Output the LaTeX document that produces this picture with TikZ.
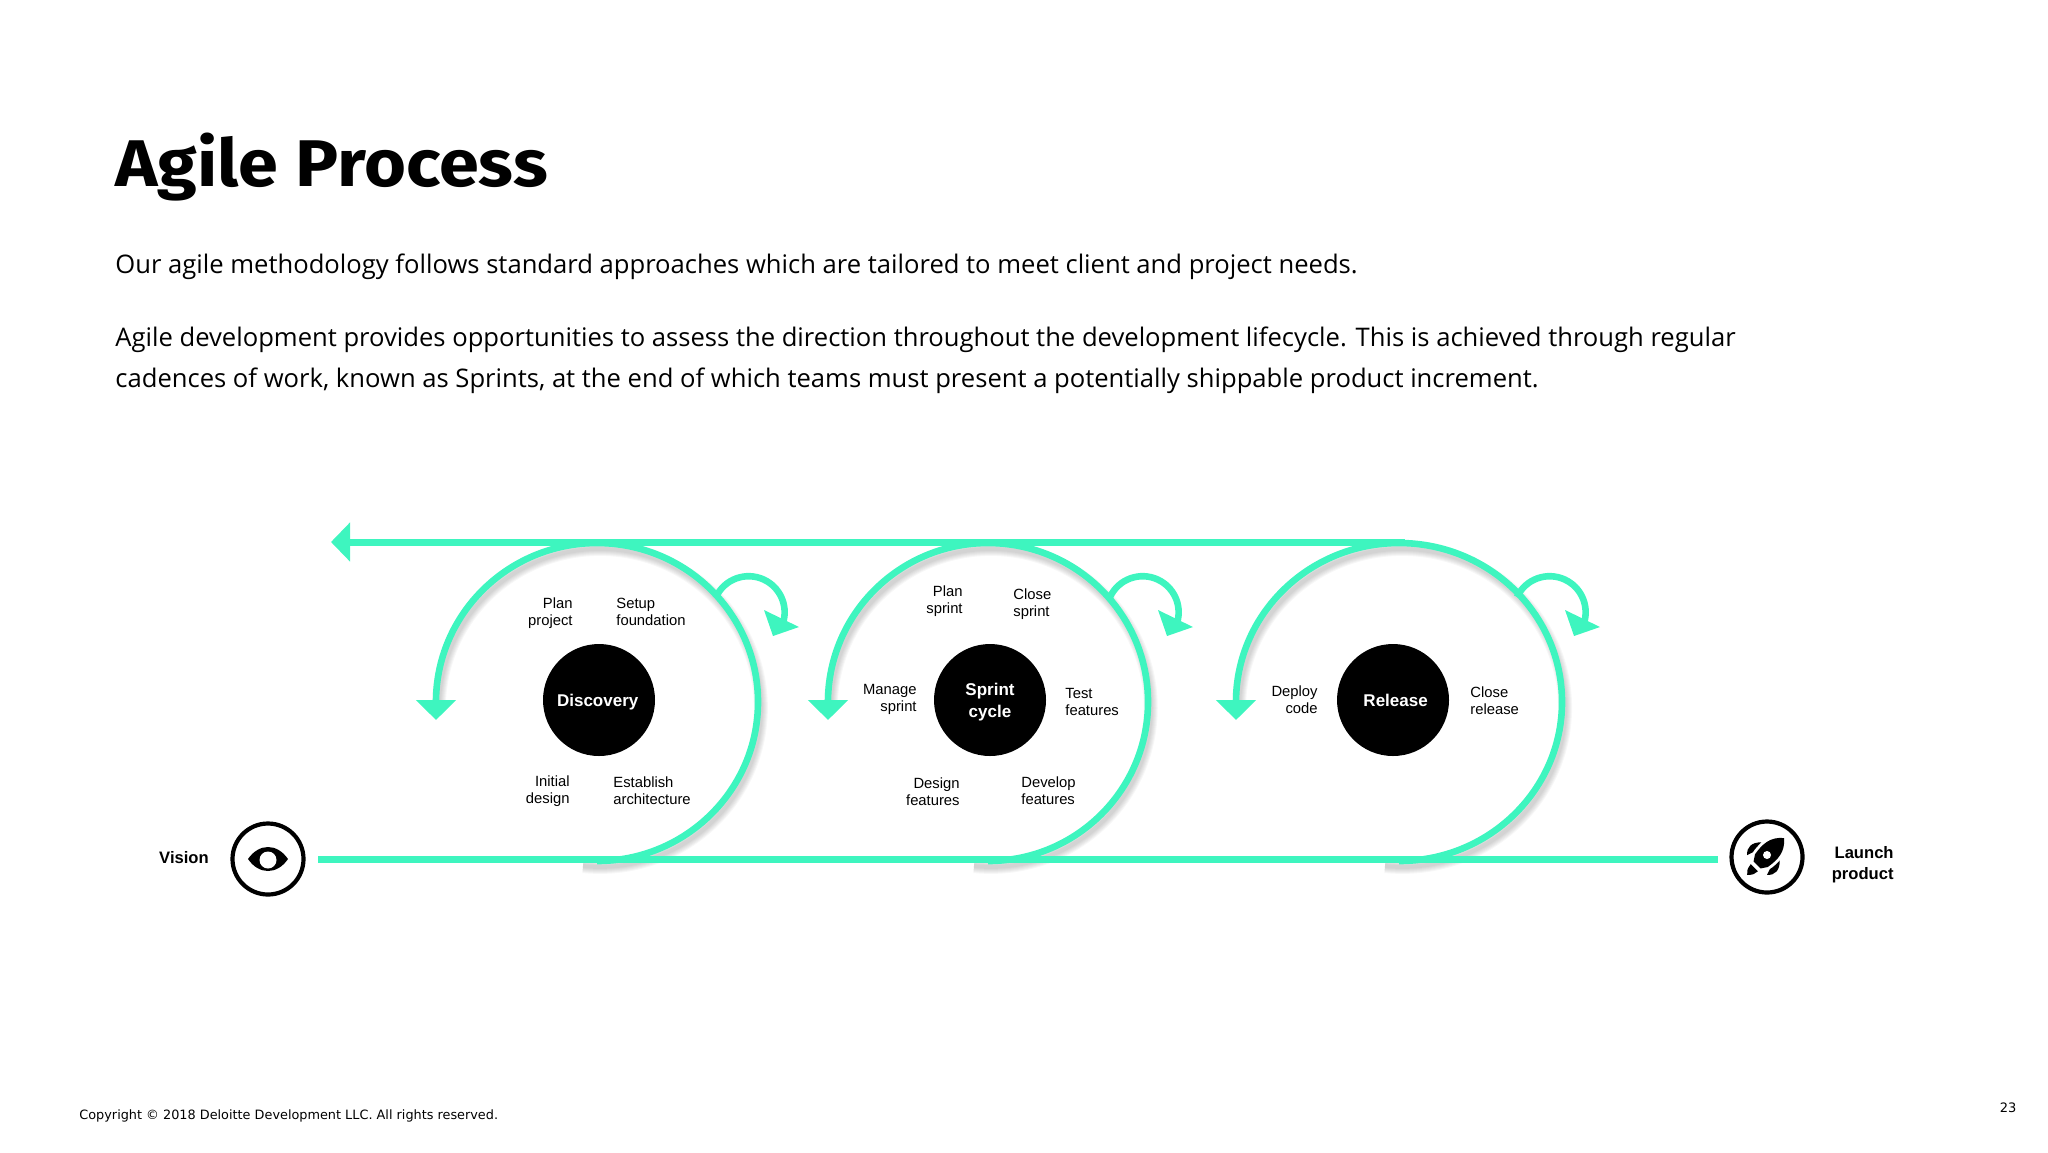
\documentclass[tikz,border=0pt]{standalone}
\usepackage{fontspec}
\setmainfont{Open Sans}
\newfontfamily\labelfont{Liberation Sans}
\newfontfamily\titlefont{Fira Sans}
\newfontfamily\footfont{DejaVu Sans}
\usetikzlibrary{arrows.meta}
\definecolor{loopgreen}{HTML}{3EF5BF}
\tikzstyle{mainline} = [draw,loopgreen,line width=3.5pt]
\tikzstyle{loopline} = [draw,loopgreen,line width=3.3pt]
\tikzstyle{shadowline} = [draw,black,opacity=.03]
\tikzstyle{hub} = [circle,fill=black,text=white,minimum size=56pt,inner sep=0pt,align=center,
  font=\labelfont\bfseries\fontsize{8.5}{10.8}\selectfont]
\tikzstyle{ring} = [circle,draw,line width=2.1pt,minimum size=35.5pt,inner sep=0pt]
\tikzstyle{leftlabel} = [anchor=east,align=right,inner sep=0pt,yshift=-.5pt,font=\labelfont\fontsize{7.4}{8.5}\selectfont]
\tikzstyle{rightlabel} = [anchor=west,align=left,inner sep=0pt,yshift=-.5pt,font=\labelfont\fontsize{7.4}{8.5}\selectfont]
\tikzstyle{endlabel} = [inner sep=0pt,align=right,font=\labelfont\bfseries\fontsize{8.3}{10.5}\selectfont]
\tikzstyle{bodytext} = [anchor=base west,inner sep=0pt,font=\fontsize{12.8}{12.8}\selectfont]
\begin{document}
\begin{tikzpicture}[x=0.5pt,y=0.5pt]
  \useasboundingbox (0,0) rectangle (2048,-1152);

  % heading and text
  \node[anchor=base west,inner sep=0pt,font=\titlefont\bfseries\fontsize{33}{33}\selectfont] (title) at (115,-186) {\scalebox{1.09}[1]{Agile Process}};
  \node[bodytext] (intro) at (115,-273) {Our agile methodology follows standard approaches which are tailored to meet client and project needs.};
  \node[bodytext] (bodyone) at (115,-346) {Agile development provides opportunities to assess the direction throughout the development lifecycle. This is achieved through regular};
  \node[bodytext] (bodytwo) at (115,-387) {cadences of work, known as Sprints, at the end of which teams must present a potentially shippable product increment.};
  \node[anchor=base west,inner sep=0pt,font=\footfont\fontsize{6.42}{6.42}\selectfont] (copyright) at (79,-1119) {Copyright © 2018 Deloitte Development LLC. All rights reserved.};
  \node[inner sep=0pt,font=\footfont\fontsize{6.5}{6.5}\selectfont] (pagenum) at (2008,-1108) {23};

  % the three loops
  \foreach \cx/\rx/\hx in {597/161/596, 988/160/990, 1399/163/1397} {
    \begin{scope}[shift={(\cx,-702)}]
      \foreach \w in {7,6,5,4,3,2}
        \draw[shadowline,line width=\w pt] (-14,-164) arc [start angle=-96,end angle=180,x radius=\rx,y radius=159];
      \draw[loopline,-{Triangle[length=10pt,width=19.5pt]}] (0,-159) arc [start angle=-90,end angle=180,x radius=\rx,y radius=159] -- (-\rx,-18);
    \end{scope}
    \begin{scope}[shift={(\hx,-702)}]
      \draw[loopline] (120,105) arc [start angle=155,end angle=-15,radius=36];
      \fill[loopgreen] (168,92) -- (203,75) -- (177,66) -- cycle;
    \end{scope}
  }

  % hubs
  \node[hub] (discovery) at (599,-700) {\hspace*{-1.3pt}\rule{0pt}{8.5pt}Discovery};
  \node[hub] (sprint) at (990,-700) {\rule{0pt}{8pt}Sprint\\cycle};
  \node[hub] (release) at (1393,-700) {\hspace*{2.6pt}Release};

  % labels round the hubs
  \foreach \pos/\name/\txt in {{(573,-612)/planproject/Plan\\project}, {(570,-790)/initialdesign/Initial\\design},
      {(963,-600)/plansprint/Plan\\sprint}, {(917,-698)/managesprint/Manage\\sprint},
      {(960,-791)/designfeat/Design\\features}, {(1318,-699)/deploycode/Deploy\\code}}
    \node[leftlabel] (\name) at \pos {\txt};
  \foreach \pos/\name/\txt in {{(616,-611)/setupfound/Setup\\foundation}, {(613,-790)/establish/Establish\\architecture},
      {(1013,-603)/closesprint/Close\\sprint}, {(1065,-701)/testfeat/Test\\features},
      {(1021,-790)/developfeat/Develop\\features}, {(1470,-700)/closerelease/Close\\release}}
    \node[rightlabel] (\name) at \pos {\txt};

  % start and end
  \node[ring] (vision) at (268,-859) {};
  \node[ring] (launch) at (1767,-857) {};
  \node[endlabel] (visionlabel) at (184,-858) {Vision};
  \node[endlabel,anchor=east] (launchlabel) at (1894,-865) {Launch\\product};

  % eye
  \begin{scope}[shift={(vision)}]
    \fill (-20,0) .. controls (-9,16) and (9,16) .. (20,0) .. controls (9,-16) and (-9,-16) .. (-20,0) -- cycle;
    \fill[white] (0,-1) circle (8.5);
  \end{scope}

  % rocket
  \begin{scope}[shift={(launch)},yshift=1pt,rotate=45]
    \fill (24,0) .. controls (15,11) and (4,11) .. (-8,9) -- (-14,5) -- (-14,-5) -- (-8,-9) .. controls (4,-11) and (15,-11) .. (24,0) -- cycle;
    \fill (5,13) .. controls (-2,20) and (-9,20) .. (-14,14) -- (-8,12) .. controls (-4,13) and (0,13) .. (5,13) -- cycle;
    \fill (5,-13) .. controls (-2,-20) and (-9,-20) .. (-14,-14) -- (-8,-12) .. controls (-4,-13) and (0,-13) .. (5,-13) -- cycle;
    \fill (-18,5) -- (-18,-5) .. controls (-24,-4) .. (-28,0) .. controls (-24,4) .. (-18,5) -- cycle;
    \fill[white] (0,0) circle (4);
  \end{scope}

  % the two long lines
  \coordinate (topstart) at (1405,-542);
  \coordinate (topend) at (331,-542);
  \draw[mainline,-{Triangle[length=9.5pt,width=19pt]}] (topstart) -- (topend);
  \draw[mainline,shorten <=6.2pt,shorten >=5.5pt] (vision.east) -- (vision.east -| launch.west);
\end{tikzpicture}
\end{document}
